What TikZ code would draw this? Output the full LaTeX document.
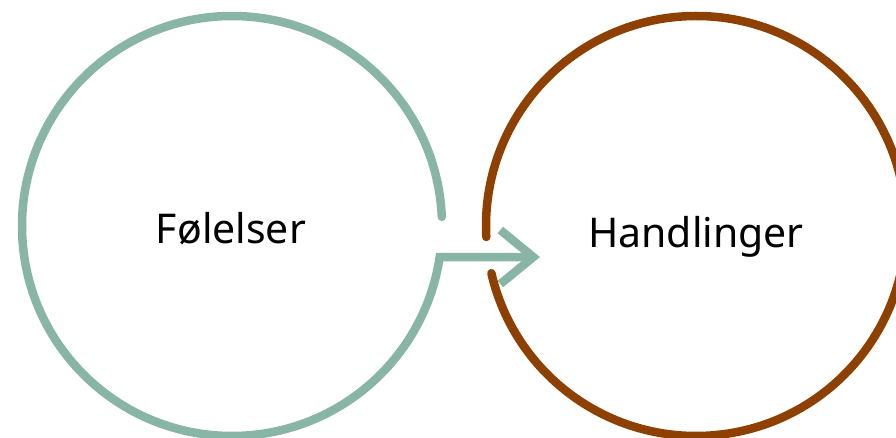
\documentclass[tikz,border=0pt]{standalone}
\usepackage{fontspec}
\setmainfont{Noto Sans}
\usetikzlibrary{arrows.meta,positioning,calc}
\definecolor{feelSage}{HTML}{88B5A5}
\definecolor{actRust}{HTML}{8E4000}
\tikzset{
  ring/.style={line width=8.5pt,line cap=round},
  word/.style={font=\fontsize{41}{48}\selectfont,text=black,anchor=base,inner sep=0pt}
}
\begin{document}
\begin{tikzpicture}[x=1pt,y=1pt]
  \clip (0,0) rectangle (896,437);
  \coordinate (feelc) at (232,211);
  \coordinate (actc) at (696,211);
  % open rings
  \coordinate (feeltop) at ($(feelc)+(2.5:210)$);
  \coordinate (acttop) at ($(actc)+(183:210)$);
  \coordinate (tip) at (540,180);
  \draw[ring,feelSage,-{Straight Barb[sharp,length=33pt,width=54pt]}]
    (feeltop) arc[start angle=2.5,end angle=351.5,radius=210] -- (tip);
  \draw[ring,actRust] (acttop) arc[start angle=183,end angle=-167,radius=210];
  % labels
  \node[word] (feel) at (231,194) {Følelser};
  \node[word] (act) at (696,190) {Handlinger};
\end{tikzpicture}
\end{document}
